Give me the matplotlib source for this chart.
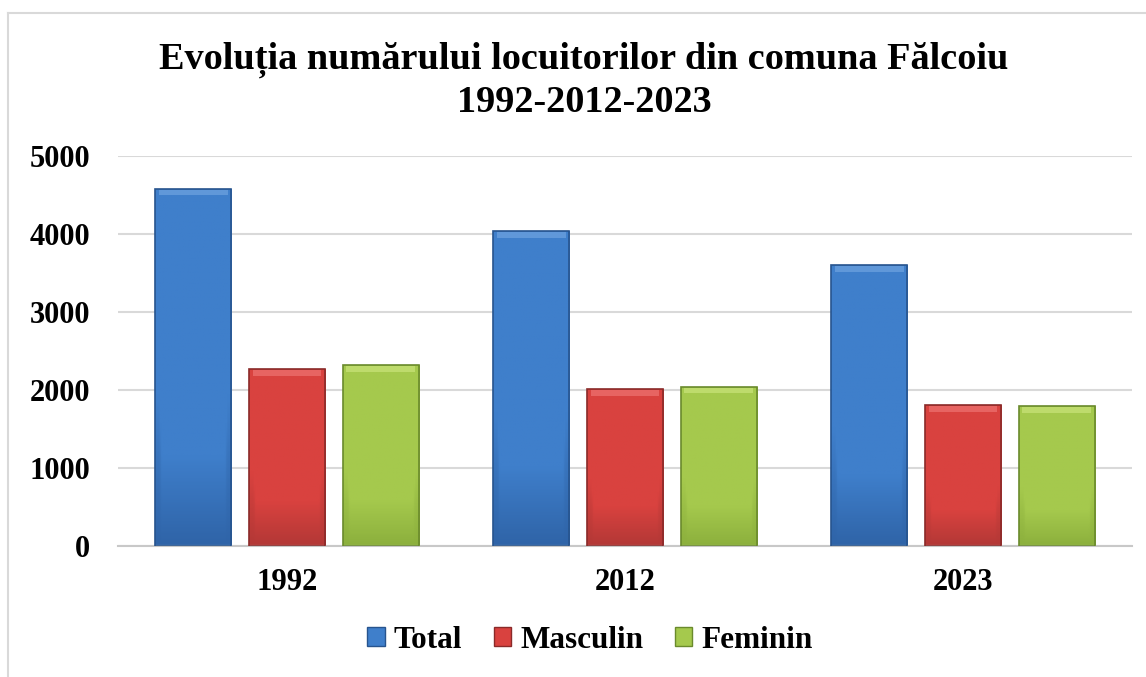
import numpy as np
import matplotlib
matplotlib.use('Agg')
import matplotlib.pyplot as plt
from matplotlib.lines import Line2D
from matplotlib.patches import Patch
from matplotlib.colors import LinearSegmentedColormap

plt.rcParams['font.family'] = ['Liberation Serif', 'DejaVu Serif']
plt.rcParams['font.weight'] = 'bold'

# date
years = ['1992', '2012', '2023']
series = ['Total', 'Masculin', 'Feminin']
total = [4575, 4035, 3598]
masculin = [2265, 2008, 1804]
feminin = [2316, 2037, 1791]

# culori (mijloc, jos, margine, varf)
styles = {
    'Total':    ('#3F7FCB', '#2F64A8', '#27548E', '#6FA3E0'),
    'Masculin': ('#D9423F', '#B33836', '#8A2A29', '#EE7371'),
    'Feminin':  ('#A5C94D', '#8CB03D', '#6A8A2C', '#C9E47A'),
}

W, H = 1146, 677
fig = plt.figure(figsize=(W / 100, H / 100), dpi=100)
ax = fig.add_axes([118 / W, 1 - 546 / H, 1014 / W, 390 / H])

x = np.arange(len(years))
bw = 0.225
off = 0.277
values = {'Total': total, 'Masculin': masculin, 'Feminin': feminin}

for i, name in enumerate(series):
    mid, low, edge, top = styles[name]
    cmap = LinearSegmentedColormap.from_list(name, [(0, low), (0.25, mid), (1, mid)])
    bars = ax.bar(x + (i - 1) * off, values[name], bw, color='none',
                  edgecolor=edge, linewidth=1.2, zorder=3)
    for b in bars:
        bx, bh = b.get_x(), b.get_height()
        # gradient pe lateral + vertical
        gy = np.linspace(0, 1, 100).reshape(-1, 1)
        gx = np.linspace(0, 1, 50).reshape(1, -1)
        side = np.minimum(gx, 1 - gx)
        shade = np.clip(gy, 0, 1) * np.clip(side * 12, 0.6, 1)
        im = ax.imshow(shade, cmap=cmap, vmin=0, vmax=1, aspect='auto', origin='lower',
                       extent=[bx, bx + bw, 0, bh], zorder=2)
        im.set_clip_path(b)
        # bevel sus
        ax.bar(bx + bw / 2, 70, bw * 0.9, bottom=bh - 80, color=top,
               alpha=0.7, linewidth=0, zorder=2.5)

ax.set_xlim(-0.5, 2.5)
ax.set_ylim(0, 5000)
ax.set_yticks(range(0, 5001, 1000))
ax.set_xticks(x)
ax.set_xticklabels(years)
ax.tick_params(axis='y', length=0, pad=20, labelsize=22)
ax.tick_params(axis='x', length=0, pad=16, labelsize=22)
for lab in ax.get_xticklabels() + ax.get_yticklabels():
    lab.set_fontweight('bold')
ax.grid(axis='y', color='#D9D9D9', linewidth=1.5, zorder=0)
ax.set_axisbelow(True)
for s in ['top', 'right', 'left']:
    ax.spines[s].set_visible(False)
ax.spines['bottom'].set_color('#C8C8C8')
ax.spines['bottom'].set_linewidth(1.5)

fig.text(584 / W, 1 - 69 / H, 'Evoluția numărului locuitorilor din comuna Fălcoiu',
         ha='center', va='baseline', fontsize=27.5, fontweight='bold')
fig.text(584 / W, 1 - 112 / H, '1992-2012-2023',
         ha='center', va='baseline', fontsize=27.5, fontweight='bold')

handles = [Patch(facecolor=styles[n][0], edgecolor=styles[n][2], label=n) for n in series]
fig.legend(handles=handles, loc='center', bbox_to_anchor=(590 / W, 1 - 640 / H),
           ncol=3, frameon=False, prop={'size': 22.5, 'weight': 'bold'},
           handlelength=0.56, handleheight=0.56, handletextpad=0.3,
           columnspacing=1.0)

# chenar
fig.add_artist(Line2D([8 / W, 1], [1 - 13 / H, 1 - 13 / H], color='#D9D9D9', lw=1.5))
fig.add_artist(Line2D([8 / W, 8 / W], [0, 1 - 13 / H], color='#D9D9D9', lw=1.5))

fig.savefig('out.png', dpi=100)
